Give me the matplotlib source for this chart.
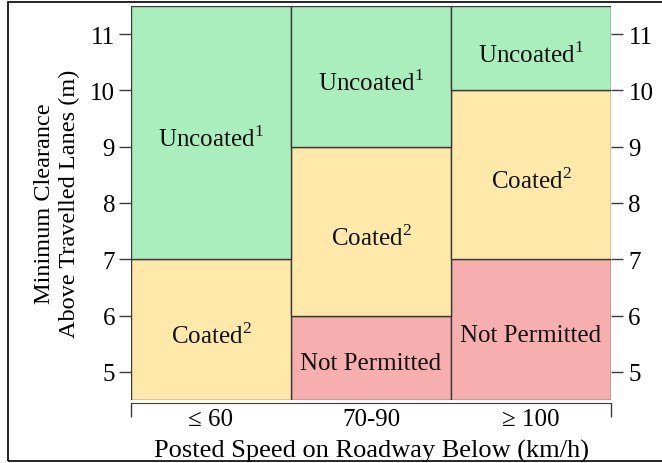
import matplotlib.pyplot as plt
from matplotlib.patches import Rectangle

plt.rcParams['font.family'] = ['Liberation Serif', 'DejaVu Serif']
plt.rcParams['mathtext.fontset'] = 'custom'
plt.rcParams['mathtext.rm'] = 'Liberation Serif'

# speed categories
speeds = ["\u2264 60", "70-90", "\u2265 100"]
# clearance zones per category (m): bottom, top
not_permitted = [(4.5, 4.5), (4.5, 6.0), (4.5, 7.0)]
coated = [(4.5, 7.0), (6.0, 9.0), (7.0, 10.0)]
uncoated = [(7.0, 11.5), (9.0, 11.5), (10.0, 11.5)]
y_ticks = [5, 6, 7, 8, 9, 10, 11]

zones = [
    ("Not Permitted", not_permitted, "#f7aeae"),
    ("Coated$^{2}$", coated, "#fee9ab"),
    ("Uncoated$^{1}$", uncoated, "#aaeebe"),
]

FS = 18

fig = plt.figure(figsize=(6.62, 4.64), dpi=100)
ax = fig.add_axes([131 / 662, 63 / 464, 480 / 662, 394 / 464])

x = range(len(speeds))
for label, rng, color in zones:
    bottoms = [lo for lo, hi in rng]
    heights = [hi - lo for lo, hi in rng]
    ax.bar(x, heights, bottom=bottoms, width=1, align='edge', color=color,
           edgecolor='#3a3a3a', linewidth=1.0)
    for i, (lo, hi) in enumerate(rng):
        if hi > lo:
            ax.text(i + 0.5, (lo + hi) / 2 - 0.1, label, ha='center', va='center',
                    fontsize=FS, color='#111111')

ax.set_xlim(0, 3)
ax.set_ylim(4.5, 11.5)
ax.set_xticks([0, 3])
ax.set_xticklabels([])
ax.set_xticks([0.5, 1.5, 2.5], minor=True)
ax.set_xticklabels(speeds, minor=True)
ax.tick_params(axis='x', which='major', length=10, width=1, color='#3a3a3a')
ax.tick_params(axis='x', which='minor', length=0, pad=4, labelsize=FS)
ax.set_yticks(y_ticks)
ax.tick_params(axis='y', length=8.5, width=1, color='#3a3a3a', labelsize=FS, pad=3)

for s in ['top', 'left', 'right']:
    ax.spines[s].set_visible(False)
ax.spines['bottom'].set_position(('outward', 2))
ax.spines['bottom'].set_color('#3a3a3a')

ax2 = ax.twinx()
ax2.set_ylim(ax.get_ylim())
ax2.set_yticks(y_ticks)
ax2.tick_params(axis='y', length=8.5, width=1, color='#3a3a3a', labelsize=FS, pad=4)
for s in ax2.spines.values():
    s.set_visible(False)

ax.set_xlabel("Posted Speed on Roadway Below (km/h)", fontsize=19, labelpad=6)
ax.set_ylabel("Minimum Clearance\nAbove Travelled Lanes (m)", fontsize=17.5, labelpad=7,
              linespacing=1.25)

fig.patches.append(Rectangle((8 / 662, 2 / 464), 1.0, 459 / 464, transform=fig.transFigure,
                             fill=False, edgecolor='black', linewidth=1.2))

fig.savefig("out.png", dpi=100)
